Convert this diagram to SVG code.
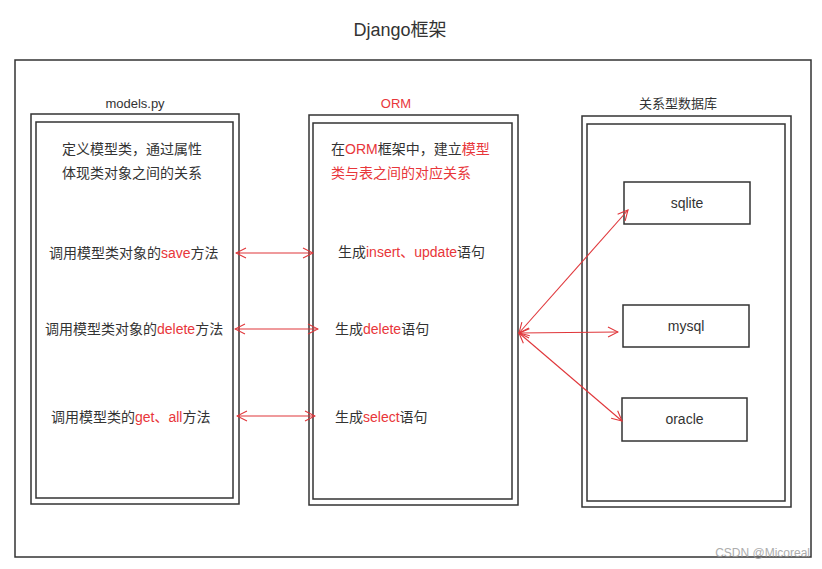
<svg xmlns="http://www.w3.org/2000/svg" width="822" height="569" viewBox="0 0 822 569">
<defs>
<style>
.frame{fill:none;stroke:#333;stroke-width:1.5}
.box{fill:#fff;stroke:#333;stroke-width:1.5}
.t{font-family:"Liberation Sans","Noto Sans CJK SC",sans-serif;fill:#333;font-size:14px}
.r{fill:#e8363a}
.h{font-size:13px}
.conn{stroke:#e0363a;stroke-width:1.1;fill:none}
</style>
<marker id="ah" viewBox="0 0 12 12" refX="11" refY="6" markerWidth="12" markerHeight="12" markerUnits="userSpaceOnUse" orient="auto-start-reverse">
<path d="M1,1 L11,6 L1,11" fill="none" stroke="#e0363a" stroke-width="1.1"/>
</marker>
</defs>
<rect width="822" height="569" fill="#fff"/>
<text class="t" x="400" y="36" text-anchor="middle" font-size="18" style="font-size:18px">Django框架</text>
<rect class="frame" x="15" y="60" width="796" height="497"/>

<g id="models">
<text class="t h" x="135" y="108" text-anchor="middle">models.py</text>
<rect class="box" x="31" y="114" width="208" height="390"/>
<rect class="box" x="36" y="122" width="197" height="376"/>
<text class="t" x="62" y="154">定义模型类，通过属性</text>
<text class="t" x="62" y="178">体现类对象之间的关系</text>
<text class="t" x="49" y="258">调用模型类对象的<tspan class="r">save</tspan>方法</text>
<text class="t" x="45" y="334">调用模型类对象的<tspan class="r">delete</tspan>方法</text>
<text class="t" x="51" y="422">调用模型类的<tspan class="r">get、all</tspan>方法</text>
</g>

<g id="orm">
<text class="t h r" x="396" y="108" text-anchor="middle">ORM</text>
<rect class="box" x="309" y="115" width="209" height="390"/>
<rect class="box" x="313" y="123" width="199" height="376"/>
<text class="t" x="331" y="154">在<tspan class="r">ORM</tspan>框架中，建立<tspan class="r">模型</tspan></text>
<text class="t r" x="331" y="178">类与表之间的对应关系</text>
<text class="t" x="338" y="257">生成<tspan class="r">insert、update</tspan>语句</text>
<text class="t" x="335" y="334">生成<tspan class="r">delete</tspan>语句</text>
<text class="t" x="335" y="422">生成<tspan class="r">select</tspan>语句</text>
</g>

<g id="db">
<text class="t h" x="678" y="108" text-anchor="middle">关系型数据库</text>
<rect class="box" x="582" y="116" width="209" height="391"/>
<rect class="box" x="587" y="124" width="198" height="377"/>
</g>
<g id="sqlite">
<rect class="box" x="624" y="182" width="126" height="42"/>
<text class="t" x="687" y="208" text-anchor="middle">sqlite</text>
</g>
<g id="mysql">
<rect class="box" x="623" y="305" width="126" height="42"/>
<text class="t" x="686" y="331" text-anchor="middle">mysql</text>
</g>
<g id="oracle">
<rect class="box" x="622" y="398" width="125" height="43"/>
<text class="t" x="684.5" y="424" text-anchor="middle">oracle</text>
</g>

<g id="connectors">
<line class="conn" x1="236" y1="253" x2="313" y2="253" marker-start="url(#ah)" marker-end="url(#ah)"/>
<line class="conn" x1="235" y1="329" x2="318" y2="329" marker-start="url(#ah)" marker-end="url(#ah)"/>
<line class="conn" x1="237" y1="416" x2="315" y2="416" marker-start="url(#ah)" marker-end="url(#ah)"/>
<line class="conn" x1="519" y1="333" x2="628" y2="210" marker-start="url(#ah)" marker-end="url(#ah)"/>
<line class="conn" x1="519" y1="333" x2="618" y2="332" marker-start="url(#ah)" marker-end="url(#ah)"/>
<line class="conn" x1="519" y1="333" x2="622" y2="421" marker-start="url(#ah)" marker-end="url(#ah)"/>
</g>

<text x="810" y="557" text-anchor="end" font-family="Liberation Sans, sans-serif" font-size="12" fill="#999" opacity="0.8">CSDN @Micoreal</text>
</svg>
